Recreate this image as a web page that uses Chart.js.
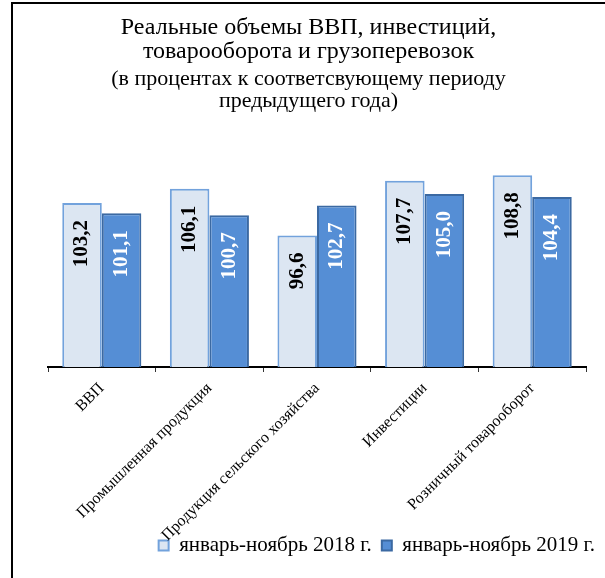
<!DOCTYPE html>
<html>
<head>
<meta charset="utf-8">
<script src="https://cdn.jsdelivr.net/npm/chart.js@4.4.1/dist/chart.umd.min.js"></script>
<style>
    html, body { margin: 0; padding: 0; background: #fff; overflow: hidden; }
    #wrap { position: relative; width: 605px; height: 578px; }
    #frame { position: absolute; left: 11px; top: 2px; width: 640px; height: 640px; border: 2px solid #000; pointer-events: none; }
</style>
</head>
<body>
<div id="wrap">
    <canvas id="chart"></canvas>
    <div id="frame"></div>
</div>
<script>
// ========== chart data ==========
const categories = ['ВВП', 'Промышленная продукция', 'Продукция сельского хозяйства', 'Инвестиции', 'Розничный товарооборот']
const values2018 = [103.2, 106.1, 96.6, 107.7, 108.8]
const values2019 = [101.1, 100.7, 102.7, 105.0, 104.4]
const seriesNames = ['январь-ноябрь 2018 г.', 'январь-ноябрь 2019 г.']
const titleLines = ['Реальные объемы ВВП, инвестиций,', 'товарооборота и грузоперевозок']
const subtitleLines = ['(в процентах к соответсвующему периоду', 'предыдущего года)']

const serif = '"Liberation Serif", "Times New Roman", serif'
Chart.defaults.font.family = serif
Chart.defaults.color = '#000'

// ========== plugin: vertical value labels inside the bars ==========
const barValueLabels = {
    id: 'barValueLabels',
    afterDatasetsDraw(chart) {
        const ctx = chart.ctx
        chart.data.datasets.forEach((ds, di) => {
            const meta = chart.getDatasetMeta(di)
            meta.data.forEach((bar, i) => {
                const text = ds.data[i].toFixed(1).replace('.', ',')
                ctx.save()
                ctx.translate(bar.x, bar.y + 17)
                ctx.rotate(-Math.PI / 2)
                ctx.font = 'bold 21px ' + serif
                ctx.fillStyle = di === 0 ? '#000' : '#fff'
                ctx.textAlign = 'right'
                ctx.textBaseline = 'middle'
                ctx.fillText(text, 0, 0)
                ctx.restore()
            })
        })
    }
}

const ctx = document.getElementById('chart').getContext('2d')
new Chart(ctx, {
    type: 'bar',
    data: {
        labels: categories,
        datasets: [{
            label: seriesNames[0],
            data: values2018,
            backgroundColor: '#dce6f2',
            borderColor: '#72a2dc',
            borderWidth: 2,
            categoryPercentage: 0.735,
            barPercentage: 1
        }, {
            label: seriesNames[1],
            data: values2019,
            backgroundColor: '#558ed5',
            borderColor: '#3b69a2',
            borderWidth: 2,
            categoryPercentage: 0.735,
            barPercentage: 1
        }]
    },
    options: {
        responsive: true,
        maintainAspectRatio: false,
        animation: false,
        layout: { padding: { left: 12, right: 0, top: 4, bottom: 12 } },
        plugins: {
            title: {
                display: true,
                text: titleLines,
                color: '#000',
                font: { family: serif, size: 24, weight: 'normal', lineHeight: 1.0 },
                padding: { top: 12, bottom: 0 }
            },
            subtitle: {
                display: true,
                text: subtitleLines,
                color: '#000',
                font: { family: serif, size: 22, weight: 'normal', lineHeight: 1.0 },
                padding: { top: 4, bottom: 8 }
            },
            legend: {
                position: 'bottom',
                align: 'end',
                labels: {
                    color: '#000',
                    font: { family: serif, size: 21 },
                    boxWidth: 10,
                    boxHeight: 10,
                    padding: 10
                }
            },
            tooltip: { enabled: false }
        },
        scales: {
            x: {
                offset: true,
                grid: { display: true, offset: true, drawOnChartArea: false, drawTicks: true, tickLength: 5, color: '#333' },
                border: { color: '#000', width: 2 },
                ticks: {
                    autoSkip: false,
                    minRotation: 45,
                    maxRotation: 45,
                    padding: 7,
                    color: '#000',
                    font: { family: serif, size: 16 }
                },
                afterFit(scale) {
                    scale.height = 158
                    // long rotated labels run down into the legend strip, as in the original
                    scale._computeLabelArea = () => undefined
                }
            },
            y: {
                min: 70,
                max: 120,
                grid: { display: false },
                border: { display: false },
                ticks: { display: false },
                afterFit(scale) { scale.width = 36 }
            },
            yr: {
                type: 'linear',
                position: 'right',
                grid: { display: false },
                border: { display: false },
                ticks: { display: false },
                afterFit(scale) { scale.width = 19 }
            }
        }
    },
    plugins: [barValueLabels]
})
</script>
</body>
</html>
